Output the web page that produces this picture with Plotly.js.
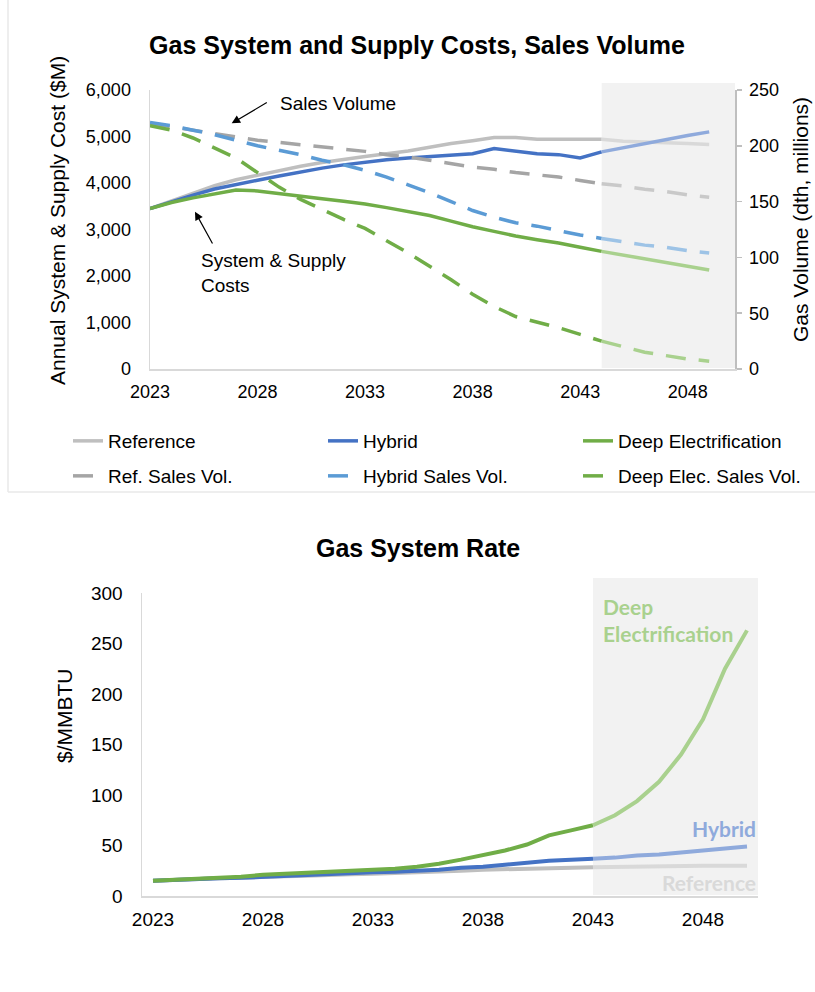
<!DOCTYPE html>
<html><head><meta charset="utf-8">
<script src="https://cdn.plot.ly/plotly-3.0.1.min.js"></script>
<style>html,body{margin:0;padding:0;background:#fff;}#chart{width:815px;height:992px;}</style>
</head><body><div id="chart"></div>
<script>
// ---------- data ----------
const yearsTop = [2023,2024,2025,2026,2027,2028,2029,2030,2031,2032,2033,2034,2035,2036,2037,2038,2039,2040,2041,2042,2043,2044,2045,2046,2047,2048,2049];
const costReference = [3450,3620,3790,3940,4070,4170,4270,4360,4440,4510,4570,4630,4690,4770,4850,4910,4980,4980,4940,4940,4940,4940,4900,4880,4870,4850,4830];
const costHybrid    = [3450,3600,3740,3870,3970,4060,4150,4240,4320,4390,4450,4500,4540,4570,4600,4630,4740,4690,4630,4610,4540,4670,4760,4850,4940,5020,5100];
const costDeep      = [3450,3580,3680,3760,3850,3830,3770,3720,3660,3610,3550,3470,3390,3300,3180,3060,2960,2860,2780,2710,2620,2530,2450,2370,2290,2210,2130];
const volReference  = [220,217,214,211,208,205,203,201,199,197,195,192,190,187,184,181,179,176,174,172,169,166,164,161,159,156,154];
const volHybrid     = [221,218,214,210,205,200,196,192,187,183,178,172,165,158,150,142,136,131,128,124,120,117,114,111,109,106,104];
const volDeep       = [218,214,207,198,189,176,163,152,143,134,126,115,104,92,80,67,56,47,42,37,31,25,20,15,12,9,7];

const yearsRate = [2023,2024,2025,2026,2027,2028,2029,2030,2031,2032,2033,2034,2035,2036,2037,2038,2039,2040,2041,2042,2043,2044,2045,2046,2047,2048,2049,2050];
const rateReference = [15,16,17,17.5,18,19,19.5,20,21,21.5,22,22.5,23,24,25,26,26.5,27,27.5,28,28.5,29,29,29.5,29.5,30,30,30];
const rateHybrid    = [15,16,17,17.5,18,19,20,21,22,23,23.5,24,25,26,28,29,31,33,35,36,37,38,40,41,43,45,47,49];
const rateDeep      = [15,16,17,18,19,21,22,23,24,25,26,27,29,32,36,40,45,51,60,65,70,80,94,113,140,175,225,263];

const xTickVals = [2023,2028,2033,2038,2043,2048];
const projStartTop = 2044;
const projStartRate = 2043;

// ---------- helpers ----------
const W = 815, H = 992;
const px = v => v / W;
const py = v => 1 - v / H;

const traces = [];
function addSeries(xs, ys, split, o) {
  const i = xs.indexOf(split);
  const base = {type:'scatter', mode:'lines', xaxis:o.xaxis, yaxis:o.yaxis, hoverinfo:'skip'};
  const t1 = Object.assign({}, base, {x:xs.slice(0,i+1), y:ys.slice(0,i+1), name:o.name,
    line:{color:o.color, width:o.width, dash:o.dash||'solid'}, showlegend:!!o.legend});
  if (o.legend) t1.legend = o.legend;
  const t2 = Object.assign({}, base, {x:xs.slice(i), y:ys.slice(i), name:o.name,
    line:{color:o.light, width:o.width, dash:o.dash||'solid'}, showlegend:false});
  traces.push(t1, t2);
}

const DASH = '20px,13px';
// top chart: costs (left axis)
addSeries(yearsTop, costReference, projStartTop, {name:'Reference', xaxis:'x', yaxis:'y', color:'#bfbfbf', light:'#d9d9d9', width:3.5, legend:'legend'});
addSeries(yearsTop, costHybrid, projStartTop, {name:'Hybrid', xaxis:'x', yaxis:'y', color:'#4472c4', light:'#8faadc', width:3.5, legend:'legend'});
addSeries(yearsTop, costDeep, projStartTop, {name:'Deep Electrification', xaxis:'x', yaxis:'y', color:'#70ad47', light:'#a9d18e', width:3.5, legend:'legend'});
// top chart: sales volumes (right axis)
addSeries(yearsTop, volReference, projStartTop, {name:'Ref. Sales Vol.', xaxis:'x', yaxis:'y2', color:'#a5a5a5', light:'#c9c9c9', width:3.5, dash:DASH, legend:'legend2'});
addSeries(yearsTop, volHybrid, projStartTop, {name:'Hybrid Sales Vol.', xaxis:'x', yaxis:'y2', color:'#5b9bd5', light:'#9dc3e6', width:3.5, dash:DASH, legend:'legend2'});
addSeries(yearsTop, volDeep, projStartTop, {name:'Deep Elec. Sales Vol.', xaxis:'x', yaxis:'y2', color:'#70ad47', light:'#a9d18e', width:3.5, dash:DASH, legend:'legend2'});
// bottom chart: rates
addSeries(yearsRate, rateReference, projStartRate, {name:'Reference', xaxis:'x2', yaxis:'y3', color:'#bfbfbf', light:'#d9d9d9', width:4});
addSeries(yearsRate, rateHybrid, projStartRate, {name:'Hybrid', xaxis:'x2', yaxis:'y3', color:'#4472c4', light:'#8faadc', width:4});
addSeries(yearsRate, rateDeep, projStartRate, {name:'Deep Electrification', xaxis:'x2', yaxis:'y3', color:'#70ad47', light:'#a9d18e', width:4});

const FONT = '"Liberation Sans", Arial, sans-serif';
const axisCommon = {showgrid:false, zeroline:false, showline:true, linecolor:'#d9d9d9', linewidth:1.5,
  tickfont:{family:FONT, size:18, color:'#000'}, fixedrange:true};

const topXEnd = 2050.2;
const rateXRange = [2022.5, 2050.5];

const layout = {
  width: W, height: H,
  margin: {l:0, r:0, t:0, b:0, autoexpand:false},
  paper_bgcolor:'#ffffff', plot_bgcolor:'rgba(0,0,0,0)',
  font:{family:FONT, size:18, color:'#000'},
  title:{text:'Gas System and Supply Costs, Sales Volume', font:{family:FONT, size:25, weight:700, color:'#000'},
    xref:'paper', yref:'paper', x:px(417), xanchor:'center', y:py(45), yanchor:'middle'},
  xaxis: Object.assign({}, axisCommon, {domain:[px(150), px(735)], range:[2023, topXEnd], anchor:'y',
    tickmode:'array', tickvals:xTickVals, ticks:'', ticklabelstandoff:6}),
  yaxis: Object.assign({}, axisCommon, {domain:[py(369), py(90)], range:[0,6000], dtick:1000, tickformat:',d',
    anchor:'x', ticks:'', ticklabelstandoff:14}),
  yaxis2: Object.assign({}, axisCommon, {overlaying:'y', side:'right', anchor:'x', range:[0,250], dtick:50,
    linecolor:'#bfbfbf', ticks:'outside', ticklen:5, tickcolor:'#bfbfbf', tickwidth:1.5, ticklabelstandoff:4}),
  xaxis2: Object.assign({}, axisCommon, {domain:[px(142), px(758)], range:rateXRange, anchor:'y3',
    tickmode:'array', tickvals:xTickVals, ticks:'', tickfont:{family:FONT, size:19, color:'#000'}, ticklabelstandoff:6}),
  yaxis3: Object.assign({}, axisCommon, {domain:[py(896), py(593)], range:[0,300], dtick:50, anchor:'x2',
    ticks:'', tickfont:{family:FONT, size:19, color:'#000'}, ticklabelstandoff:14}),
  legend:{orientation:'h', x:px(68), xanchor:'left', y:py(441), yanchor:'middle', entrywidth:210, entrywidthmode:'pixels',
    font:{family:FONT, size:19, color:'#000'}, bgcolor:'rgba(0,0,0,0)', traceorder:'normal'},
  legend2:{orientation:'h', x:px(68), xanchor:'left', y:py(476), yanchor:'middle', entrywidth:210, entrywidthmode:'pixels',
    font:{family:FONT, size:19, color:'#000'}, bgcolor:'rgba(0,0,0,0)', traceorder:'normal'},
  shapes:[
    {type:'rect', xref:'x', yref:'paper', x0:projStartTop, x1:topXEnd, y0:py(368), y1:py(83), fillcolor:'#f2f2f2', line:{width:0}, layer:'below'},
    {type:'rect', xref:'x2', yref:'paper', x0:projStartRate, x1:rateXRange[1], y0:py(895), y1:py(578), fillcolor:'#f2f2f2', line:{width:0}, layer:'below'},
    {type:'line', xref:'paper', yref:'paper', x0:px(8), x1:px(8), y0:1, y1:py(492), line:{color:'#e8e8e8', width:1.5}, layer:'below'},
    {type:'line', xref:'paper', yref:'paper', x0:px(8), x1:1, y0:py(492), y1:py(492), line:{color:'#e8e8e8', width:1.5}, layer:'below'}
  ],
  annotations:[
    {text:'Gas System Rate', xref:'paper', yref:'paper', x:px(418), y:py(548), xanchor:'center', yanchor:'middle', showarrow:false,
      font:{family:FONT, size:25, weight:700, color:'#000'}},
    {text:'Annual System & Supply Cost ($M)', xref:'paper', yref:'paper', x:px(57), y:py(221), textangle:-90, xanchor:'center', yanchor:'middle', showarrow:false,
      font:{family:FONT, size:21, color:'#000'}},
    {text:'Gas Volume (dth, millions)', xref:'paper', yref:'paper', x:px(800), y:py(220), textangle:-90, xanchor:'center', yanchor:'middle', showarrow:false,
      font:{family:FONT, size:21, color:'#000'}},
    {text:'$/MMBTU', xref:'paper', yref:'paper', x:px(64), y:py(716), textangle:-90, xanchor:'center', yanchor:'middle', showarrow:false,
      font:{family:FONT, size:21, color:'#000'}},
    {text:'Sales Volume', xref:'paper', yref:'paper', x:px(278), y:py(103), xanchor:'left', yanchor:'middle', showarrow:false,
      font:{family:FONT, size:19, color:'#000'}},
    {text:'', xref:'paper', yref:'paper', x:px(231.7), y:py(123.3), ax:36.6, ay:-21.6, showarrow:true, arrowhead:2, arrowsize:1.4, arrowwidth:1.2, arrowcolor:'#000'},
    {text:'System & Supply<br>Costs', xref:'paper', yref:'paper', x:px(199), y:py(273), xanchor:'left', yanchor:'middle', align:'left', showarrow:false,
      font:{family:FONT, size:19, color:'#000'}},
    {text:'', xref:'paper', yref:'paper', x:px(195), y:py(211.7), ax:18.3, ay:33.3, showarrow:true, arrowhead:2, arrowsize:1.4, arrowwidth:1.2, arrowcolor:'#000'},
    {text:'Deep<br>Electrification', xref:'paper', yref:'paper', x:px(601), y:py(620), xanchor:'left', yanchor:'middle', align:'left', showarrow:false,
      font:{family:'Lato, "Open Sans", sans-serif', size:21, weight:700, color:'#a9d18e'}},
    {text:'Hybrid', xref:'paper', yref:'paper', x:px(758), y:py(828), xanchor:'right', yanchor:'middle', showarrow:false,
      font:{family:'Lato, "Open Sans", sans-serif', size:21, weight:700, color:'#8faadc'}},
    {text:'Reference', xref:'paper', yref:'paper', x:px(758), y:py(882), xanchor:'right', yanchor:'middle', showarrow:false,
      font:{family:'Lato, "Open Sans", sans-serif', size:21, weight:700, color:'#d9d9d9'}}
  ]
};

Plotly.newPlot('chart', traces, layout, {staticPlot:true, displayModeBar:false});
</script>
</body></html>
